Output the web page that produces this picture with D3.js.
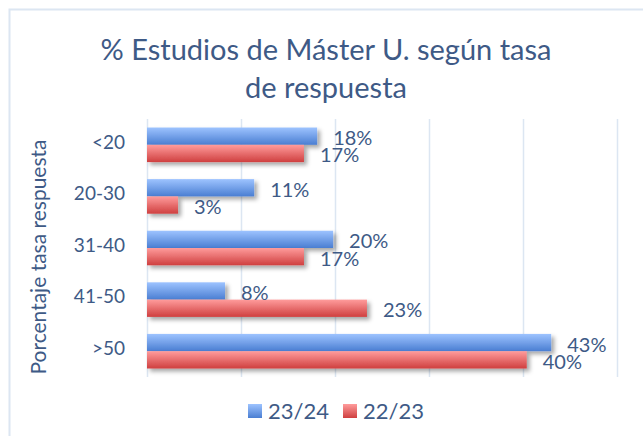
<!DOCTYPE html>
<html>
<head>
<meta charset="utf-8">
<script src="https://cdn.jsdelivr.net/npm/d3@7"></script>
<style>
  html, body { margin: 0; padding: 0; background: #fff; }
  svg { display: block; font-family: Lato, "Open Sans", sans-serif; }
</style>
</head>
<body>
<svg id="chart" width="643" height="436"></svg>
<script>
(function () {
  'use strict';

  const CATEGORIES = ['<20', '20-30', '31-40', '41-50', '>50'];
  const SERIES = ['23/24', '22/23'];
  const VALUES_2324 = [18.1, 11.4, 19.8, 8.3, 43.0];
  const VALUES_2223 = [16.7, 3.3, 16.7, 23.4, 40.4];
  const X_TICKS = [0, 10, 20, 30, 40, 50];

  const TEXT = '#3E5A86';
  const GRID = '#DCE6F2';

  const svg = d3.select('#chart');
  const defs = svg.append('defs');

  const grads = [
    { id: 'g-blue', top: '#9DC3FF', bottom: '#4A7ED2' },
    { id: 'g-red',  top: '#FF9C9C', bottom: '#CF3F3F' }
  ];
  grads.forEach(g => {
    const lg = defs.append('linearGradient').attr('id', g.id)
      .attr('x1', 0).attr('y1', 0).attr('x2', 0).attr('y2', 1);
    lg.append('stop').attr('offset', '0%').attr('stop-color', g.top);
    lg.append('stop').attr('offset', '100%').attr('stop-color', g.bottom);
  });
  const shadow = defs.append('filter').attr('id', 'shadow')
    .attr('x', '-10%').attr('y', '-30%').attr('width', '130%').attr('height', '180%');
  shadow.append('feDropShadow').attr('dx', 3).attr('dy', 3)
    .attr('stdDeviation', 2).attr('flood-color', '#000').attr('flood-opacity', 0.35);

  // Chart border (light blue, open at right/bottom of the crop)
  svg.append('path')
    .attr('d', 'M9.5,440 V9.5 H650')
    .attr('fill', 'none').attr('stroke', GRID).attr('stroke-width', 2);

  // Title
  const title = svg.append('text').attr('text-anchor', 'middle')
    .attr('fill', TEXT).attr('font-size', 29);
  title.append('tspan').attr('x', 326).attr('y', 60).text('% Estudios de Máster U. según tasa');
  title.append('tspan').attr('x', 326).attr('y', 98).text('de respuesta');

  const x = d3.scaleLinear().domain([0, 50]).range([147, 617]);
  const y = d3.scaleBand().domain(CATEGORIES).range([119, 377]).paddingInner(0.33).paddingOuter(0.165);
  const ySub = d3.scaleBand().domain(SERIES).range([0, y.bandwidth()]);

  // Gridlines
  svg.append('g').selectAll('line').data(X_TICKS).join('line')
    .attr('x1', d => x(d) + 0.5).attr('x2', d => x(d) + 0.5)
    .attr('y1', 119).attr('y2', 377)
    .attr('stroke', GRID).attr('stroke-width', 1.5);

  // Category axis labels
  const yAxis = svg.append('g').attr('transform', 'translate(147,0)')
    .call(d3.axisLeft(y).tickSize(0).tickPadding(22));
  yAxis.select('.domain').remove();
  yAxis.selectAll('text').attr('fill', TEXT).attr('font-size', 19)
    .attr('font-family', 'Lato, "Open Sans", sans-serif').attr('dy', '0.2em');

  svg.append('text')
    .attr('transform', 'translate(46,257) rotate(-90)')
    .attr('text-anchor', 'middle').attr('fill', TEXT).attr('font-size', 21)
    .text('Porcentaje tasa respuesta');

  const rows = [];
  CATEGORIES.forEach((c, i) => {
    rows.push({ cat: c, series: SERIES[0], v: VALUES_2324[i], fill: 'url(#g-blue)' });
    rows.push({ cat: c, series: SERIES[1], v: VALUES_2223[i], fill: 'url(#g-red)' });
  });

  const bars = svg.append('g');
  bars.selectAll('rect').data(rows).join('rect')
    .attr('x', x(0))
    .attr('y', d => y(d.cat) + ySub(d.series))
    .attr('width', d => x(d.v) - x(0))
    .attr('height', ySub.bandwidth())
    .attr('fill', d => d.fill)
    .attr('filter', 'url(#shadow)');

  svg.append('g').selectAll('text').data(rows).join('text')
    .attr('x', d => x(d.v) + 16)
    .attr('y', d => y(d.cat) + ySub(d.series) + ySub.bandwidth() / 2 + 2)
    .attr('dy', '0.35em')
    .attr('fill', TEXT).attr('font-size', 20)
    .text(d => Math.round(d.v) + '%');

  // Legend
  const legend = svg.append('g');
  const items = [
    { label: SERIES[0], fill: 'url(#g-blue)', x: 248 },
    { label: SERIES[1], fill: 'url(#g-red)', x: 343 }
  ];
  items.forEach(it => {
    legend.append('rect').attr('x', it.x).attr('y', 404)
      .attr('width', 14).attr('height', 14).attr('fill', it.fill);
    legend.append('text').attr('x', it.x + 20).attr('y', 419)
      .attr('fill', TEXT).attr('font-size', 22).text(it.label);
  });
})();
</script>
</body>
</html>
